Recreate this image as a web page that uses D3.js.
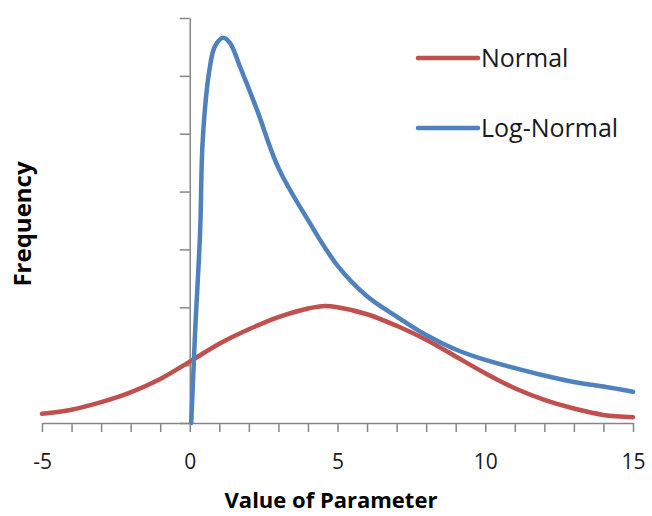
<!DOCTYPE html>
<meta charset="utf-8">
<style>
body {
  margin: 0;
  background-color: #ffffff;
}
.axis path,
.axis line {
  fill: none;
  stroke: #868686;
  stroke-width: 1.5px;
}
.axis text {
  font: 21px "Open Sans", sans-serif;
  fill: #1a1a1a;
}
.title {
  font-family: "Open Sans", sans-serif;
  font-weight: bold;
  fill: #000;
}
.legend text {
  font: 25px "Open Sans", sans-serif;
  fill: #1a1a1a;
}
</style>
<body>
<script src="https://d3js.org/d3.v7.min.js"></script>
<script>
  // data
  var normalX = [-5, -4, -3, -2, -1, 0, 1, 2, 3, 4, 4.5, 5, 6, 7, 8, 9, 10, 11, 12, 13, 14, 15];
  var normalY = [0.16, 0.23, 0.36, 0.53, 0.76, 1.06, 1.37, 1.62, 1.83, 1.98, 2.02, 2.00, 1.88, 1.68, 1.44, 1.15, 0.86, 0.60, 0.40, 0.25, 0.14, 0.10];

  var logX = [0.05, 0.18, 0.35, 0.44, 0.66, 0.85, 1.13, 1.36, 1.70, 2.27, 3, 4, 5, 6, 7, 8, 9, 10, 11, 12, 13, 14, 15];
  var logY = [0, 1.56, 3.29, 4.90, 6.08, 6.51, 6.66, 6.57, 6.16, 5.42, 4.41, 3.51, 2.72, 2.19, 1.84, 1.52, 1.27, 1.09, 0.95, 0.82, 0.71, 0.63, 0.54];

  var xTicks = d3.range(-5, 16);
  var yTicks = d3.range(0, 8);
  var xLabels = [-5, 0, 5, 10, 15];

  var seriesNames = ["Normal", "Log-Normal"];
  var seriesColors = ["#C0504D", "#4F81BD"];

  var width = 652, height = 516;

  var svg = d3.select("body").append("svg")
      .attr("width", width)
      .attr("height", height);

  var x = d3.scaleLinear().domain([-5, 15]).range([42, 633]);
  var y = d3.scaleLinear().domain([0, 7]).range([423, 18]);

  // x axis
  svg.append("g")
      .attr("class", "axis")
      .attr("transform", "translate(0," + y(0) + ")")
      .call(d3.axisBottom(x)
        .tickValues(xTicks)
        .tickSizeInner(9)
        .tickSizeOuter(0)
        .tickPadding(22)
        .tickFormat(function(d) { return xLabels.indexOf(d) >= 0 ? d : ""; }));

  // y axis
  svg.append("g")
      .attr("class", "axis")
      .attr("transform", "translate(" + x(0) + ",0)")
      .call(d3.axisLeft(y)
        .tickValues(yTicks)
        .tickSizeInner(10)
        .tickSizeOuter(0)
        .tickFormat(""));

  var line = d3.line()
      .x(function(d) { return x(d[0]); })
      .y(function(d) { return y(d[1]); })
      .curve(d3.curveCatmullRom.alpha(0.5));

  var series = [
    d3.zip(normalX, normalY),
    d3.zip(logX, logY)
  ];

  svg.selectAll(".series")
      .data(series)
    .enter().append("path")
      .attr("class", "series")
      .attr("d", line)
      .attr("fill", "none")
      .attr("stroke", function(d, i) { return seriesColors[i]; })
      .attr("stroke-width", 4.5)
      .attr("stroke-linejoin", "round")
      .attr("stroke-linecap", "round");

  // legend
  var legend = svg.append("g").attr("class", "legend");
  seriesNames.forEach(function(name, i) {
    var ly = 58 + i * 70;
    legend.append("line")
        .attr("x1", 418).attr("x2", 478)
        .attr("y1", ly).attr("y2", ly)
        .attr("stroke", seriesColors[i])
        .attr("stroke-width", 4.5)
        .attr("stroke-linecap", "round");
    legend.append("text")
        .attr("x", 481)
        .attr("y", ly)
        .attr("dy", "0.36em")
        .text(name);
  });

  // axis titles
  svg.append("text")
      .attr("class", "title")
      .attr("x", 331)
      .attr("y", 508)
      .attr("text-anchor", "middle")
      .style("font-size", "22px")
      .text("Value of Parameter");

  svg.append("text")
      .attr("class", "title")
      .attr("transform", "translate(31,224) rotate(-90)")
      .attr("text-anchor", "middle")
      .style("font-size", "24px")
      .text("Frequency");
</script>
</body>
